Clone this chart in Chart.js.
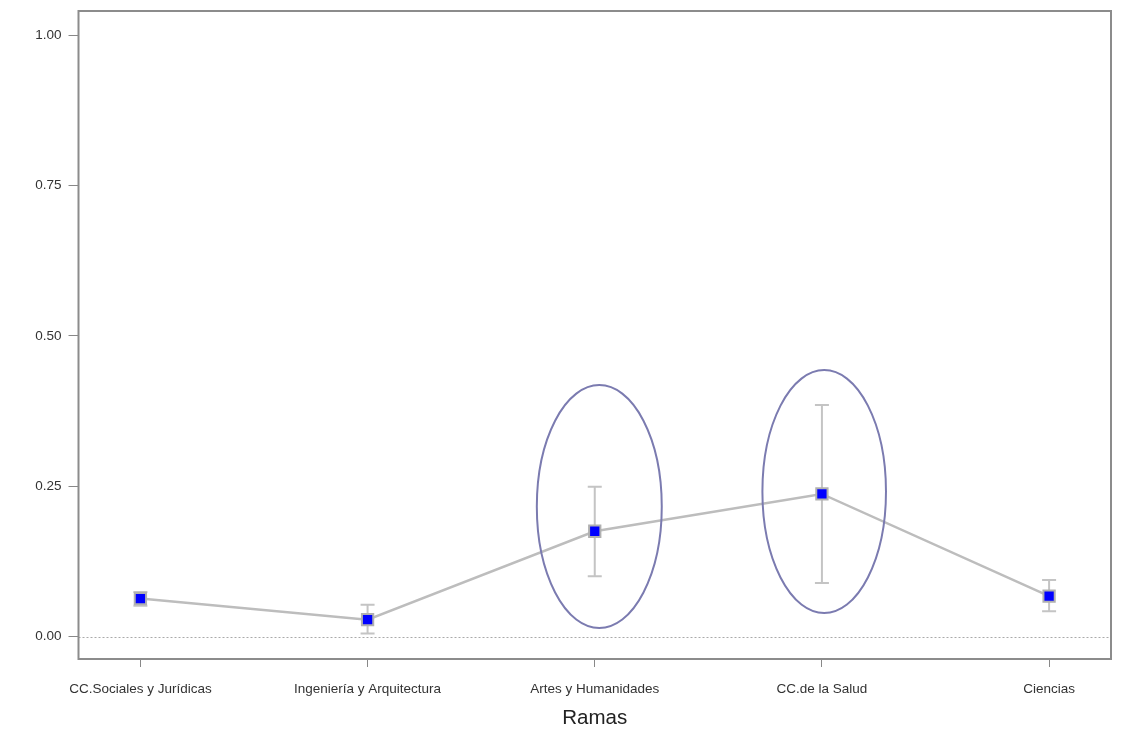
<!DOCTYPE html>
<html>
<head>
<meta charset="utf-8">
<script src="https://cdn.jsdelivr.net/npm/chart.js@4/dist/chart.umd.min.js"></script>
<style>
  html, body { margin: 0; padding: 0; background: #fff; }
  #wrap { width: 1131px; height: 741px; position: relative; }
</style>
</head>
<body>
<div id="wrap"><canvas id="chart"></canvas></div>
<script>
// ── Data ──────────────────────────────────────────────
const ramas = ['CC.Sociales y Jurídicas', 'Ingeniería y Arquitectura', 'Artes y Humanidades', 'CC.de la Salud', 'Ciencias'];
const medias = [0.063, 0.028, 0.175, 0.237, 0.067];
const errInf = [0.051, 0.005, 0.100, 0.089, 0.042];
const errSup = [0.074, 0.053, 0.249, 0.385, 0.094];
const yTicks = [0, 0.25, 0.5, 0.75, 1];

// elipses resaltando dos ramas (centro x, centro y, radio x, radio y en unidades de datos)
const elipseX = [2.02, 3.01];
const elipseY = [0.216, 0.241];
const elipseRx = [0.275, 0.272];
const elipseRy = [0.202, 0.202];

const FONT = "'Liberation Sans', Arial, sans-serif";

// líneas de error, línea de cero, caja y elipses
const extras = {
    id: 'extras',
    beforeDatasetsDraw(chart) {
        const { ctx, chartArea, scales: { x, y } } = chart;
        ctx.save();
        // línea de cero punteada
        ctx.strokeStyle = '#aaaaaa';
        ctx.lineWidth = 1;
        ctx.setLineDash([2, 2]);
        const y0 = Math.round(y.getPixelForValue(0)) + 0.5;
        ctx.beginPath();
        ctx.moveTo(chartArea.left, y0);
        ctx.lineTo(chartArea.right, y0);
        ctx.stroke();
        ctx.setLineDash([]);

        // barras de error
        ctx.strokeStyle = '#c4c4c4';
        ctx.lineWidth = 2;
        medias.forEach((m, i) => {
            const px = x.getPixelForValue(i);
            const lo = y.getPixelForValue(errInf[i]);
            const hi = y.getPixelForValue(errSup[i]);
            ctx.beginPath();
            ctx.moveTo(px, lo); ctx.lineTo(px, hi);
            ctx.moveTo(px - 7, lo); ctx.lineTo(px + 7, lo);
            ctx.moveTo(px - 7, hi); ctx.lineTo(px + 7, hi);
            ctx.stroke();
        });
        ctx.restore();
    },
    afterDraw(chart) {
        const { ctx, chartArea, scales: { x, y } } = chart;
        ctx.save();
        // elipses
        ctx.strokeStyle = '#7b7bb0';
        ctx.lineWidth = 2;
        elipseX.forEach((cx, i) => {
            const px = x.getPixelForValue(cx);
            const py = y.getPixelForValue(elipseY[i]);
            const rx = x.getPixelForValue(cx + elipseRx[i]) - px;
            const ry = py - y.getPixelForValue(elipseY[i] + elipseRy[i]);
            ctx.beginPath();
            ctx.ellipse(px, py, rx, ry, 0, 0, Math.PI * 2);
            ctx.stroke();
        });
        // caja
        ctx.strokeStyle = '#8c8c8c';
        ctx.lineWidth = 2;
        ctx.strokeRect(chartArea.left, chartArea.top, chartArea.right - chartArea.left, chartArea.bottom - chartArea.top);
        ctx.restore();
    }
};

new Chart(document.getElementById('chart').getContext('2d'), {
    type: 'line',
    data: {
        datasets: [{
            data: medias.map((v, i) => ({ x: i, y: v })),
            borderColor: '#bdbdbd',
            borderWidth: 2.5,
            tension: 0,
            pointStyle: 'rect',
            pointRadius: 8,
            pointBackgroundColor: '#0000ff',
            pointBorderColor: '#b0b0b0',
            pointBorderWidth: 2
        }]
    },
    options: {
        responsive: true,
        maintainAspectRatio: false,
        animation: false,
        layout: { padding: { top: 11, right: 20, left: 0, bottom: 0 } },
        plugins: { legend: { display: false }, tooltip: { enabled: false } },
        scales: {
            x: {
                type: 'linear',
                min: -0.2725,
                max: 4.2725,
                afterBuildTicks: s => { s.ticks = ramas.map((_, i) => ({ value: i })); },
                afterFit: s => { s.height = 82; s.paddingLeft = 0; s.paddingRight = 0; },
                grid: { drawOnChartArea: false, tickLength: 8, color: '#888' },
                border: { display: false },
                ticks: {
                    autoSkip: false, maxRotation: 0, padding: 14,
                    color: '#333', font: { family: FONT, size: 13.5 },
                    callback: v => ramas[v]
                },
                title: {
                    display: true, text: 'Ramas', color: '#222',
                    font: { family: FONT, size: 20.5 }, padding: { top: 4, bottom: 10 }
                }
            },
            y: {
                min: -0.0374,
                max: 1.04,
                afterBuildTicks: s => { s.ticks = yTicks.map(v => ({ value: v })); },
                afterFit: s => { s.width = 78.5; s.paddingTop = 0; s.paddingBottom = 0; },
                grid: { drawOnChartArea: false, tickLength: 10, color: '#888' },
                border: { display: false },
                ticks: {
                    padding: 7, color: '#333', font: { family: FONT, size: 13.5 },
                    callback: v => v.toFixed(2)
                }
            }
        }
    },
    plugins: [extras]
});
</script>
</body>
</html>
